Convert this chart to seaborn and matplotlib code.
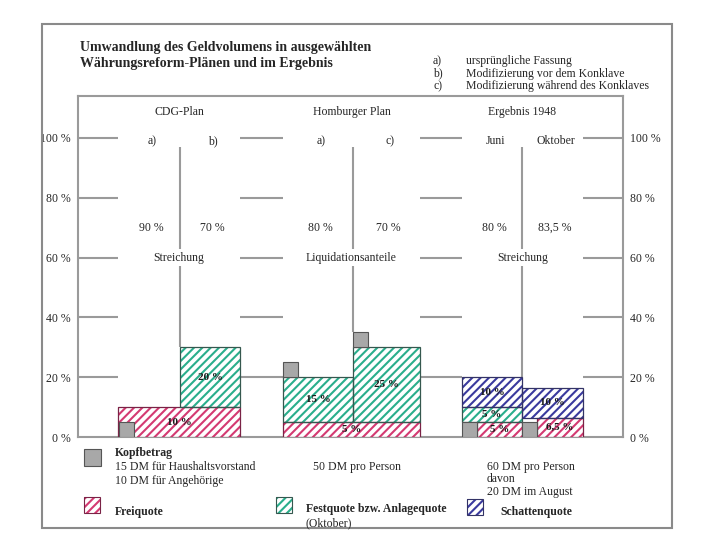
import matplotlib
matplotlib.use("Agg")
import matplotlib.pyplot as plt
from matplotlib.patches import Rectangle
import seaborn as sns

sns.set_theme(style="white")
plt.rcParams['font.family'] = ['Liberation Serif', 'DejaVu Serif']
plt.rcParams['hatch.linewidth'] = 1.5

# --- data ---
title = "Umwandlung des Geldvolumens in ausgewählten\nWährungsreform-Plänen und im Ergebnis"
note_keys = ["a)", "b)", "c)"]
note_texts = ["ursprüngliche Fassung", "Modifizierung vor dem Konklave", "Modifizierung während des Konklaves"]

plans = ["CDG-Plan", "Homburger Plan", "Ergebnis 1948"]
variants = ["a)", "b)", "a)", "c)", "Juni", "Oktober"]
streichung = ["90 %", "70 %", "80 %", "70 %", "80 %", "83,5 %"]
lower_labels = ["Streichung", "Liquidationsanteile", "Streichung"]

freiquote = [10, 10, 5, 5, 5, 6.5]
festquote = [0, 20, 15, 25, 5, 0]
schattenquote = [0, 0, 0, 0, 10, 10]
kopfbetrag = [5, 0, 5, 5, 5, 5]
kopf_texts = ["15 DM für Haushaltsvorstand\n10 DM für Angehörige", "50 DM pro Person",
              "60 DM pro Person\ndavon\n20 DM im August"]
yticks = [0, 20, 40, 60, 80, 100]

# --- layout ---
W, H = 720, 540
edges = [(40, 102, 162), (205, 275, 342), (384, 444, 505)]  # left, divider, right (axis px)
kopf_w = 15
kopf_mode = ["inside", "top", "beside"]
grey = "#9a9a9a"
frei_c, frei_e = "#d43a72", "#7a2346"
fest_c, fest_e = "#2aae8c", "#35584f"
schat_c, schat_e = "#3a3a9e", "#333366"
kopf_c, kopf_e = "#a8a8a8", "#555555"


def fig_xy(x, y):
    return x / W, 1 - y / H


def pct(v):
    return f"{v:g} %".replace(".", ",")


def hbar(ax, x0, w, y0, h, hc, ec):
    ax.bar(x0, h, width=w, bottom=y0, align="edge", color="white",
           edgecolor=hc, hatch="////", linewidth=0, zorder=3)
    ax.bar(x0, h, width=w, bottom=y0, align="edge", fill=False,
           edgecolor=ec, linewidth=0.9, zorder=4)


def label(ax, x, y, s):
    ax.text(x, y, s, ha="center", va="center", fontsize=8, fontweight="bold",
            color="#1a1a1a", zorder=6)


fig = plt.figure(figsize=(7.2, 5.4), dpi=100)
ax = fig.add_axes([78 / W, 1 - 437 / H, 545 / W, (437 - 96) / H])
ax.set_xlim(0, 545)
ax.set_ylim(0, 114)
for s in ax.spines.values():
    s.set_color(grey)
    s.set_linewidth(1.5)
ax.set_yticks(yticks)
ax.set_yticklabels([f"{t} %" for t in yticks], fontsize=8.5)
ax.set_xticks([])
ax.tick_params(axis="y", length=0, pad=5, labelleft=True, labelright=True)

# gridline segments only in the gaps between plans
gaps = [(0, edges[0][0]), (edges[0][2], edges[1][0]), (edges[1][2], edges[2][0]), (edges[2][2], 545)]
for t in yticks[1:]:
    for a, b in gaps:
        ax.hlines(t, a, b, color=grey, linewidth=1.5, zorder=1)

for g in range(3):
    left, mid, right = edges[g]
    cols = [(left, mid - left), (mid, right - mid)]
    idx = [2 * g, 2 * g + 1]
    tops = []
    # Freiquote
    if kopf_mode[g] != "beside" and freiquote[idx[0]] == freiquote[idx[1]]:
        hbar(ax, left, right - left, 0, freiquote[idx[0]], frei_c, frei_e)
        label(ax, (left + right) / 2, freiquote[idx[0]] / 2, pct(freiquote[idx[0]]))
    else:
        for (x0, w), i in zip(cols, idx):
            hbar(ax, x0 + kopf_w, w - kopf_w, 0, freiquote[i], frei_c, frei_e)
            label(ax, x0 + kopf_w + (w - kopf_w) / 2, freiquote[i] / 2, pct(freiquote[i]))
    for (x0, w), i in zip(cols, idx):
        base = freiquote[i]
        if festquote[i] > 0:
            hbar(ax, x0, w, base, festquote[i], fest_c, fest_e)
            label(ax, x0 + w / 2, base + festquote[i] / 2, pct(festquote[i]))
            base += festquote[i]
        if schattenquote[i] > 0:
            hbar(ax, x0, w, base, schattenquote[i], schat_c, schat_e)
            label(ax, x0 + w / 2, base + schattenquote[i] / 2, pct(schattenquote[i]))
            base += schattenquote[i]
        if kopfbetrag[i] > 0:
            if kopf_mode[g] == "top":
                ky, kx = base, x0
                base += kopfbetrag[i]
            elif kopf_mode[g] == "inside":
                ky, kx = 0, x0 + 1
            else:
                ky, kx = 0, x0
            ax.bar(kx, kopfbetrag[i], width=kopf_w, bottom=ky, align="edge",
                   color=kopf_c, edgecolor=kopf_e, linewidth=0.8, zorder=5)
        tops.append(base)
        ax.text(x0 + w / 2 + 3, 99, variants[i], ha="center", va="center", fontsize=8.5)
        ax.text(x0 + w / 2 + 2, 70, streichung[i], ha="center", va="center", fontsize=8.5)
    ax.vlines(mid, max(tops), 97, color=grey, linewidth=1.5, zorder=2)
    ax.text((left + right) / 2, 108.5, plans[g], ha="center", va="center", fontsize=8.5)
    ax.text((left + right) / 2, 60, lower_labels[g], ha="center", va="center", fontsize=8.5,
            bbox=dict(facecolor="white", edgecolor="none", pad=1.5), zorder=3)

# outer frame
fig.add_artist(Rectangle(fig_xy(42, 528), (672 - 42) / W, (528 - 24) / H,
                         transform=fig.transFigure, fill=False, edgecolor="#8a8a8a", linewidth=1.5))

# title and notes
fig.text(*fig_xy(80, 56), title, ha="left", va="center", fontsize=10, fontweight="bold",
         linespacing=1.3)
for k, (key, txt) in enumerate(zip(note_keys, note_texts)):
    fig.text(*fig_xy(433, 61 + 12.5 * k), key, ha="left", va="center", fontsize=8.5)
    fig.text(*fig_xy(466, 61 + 12.5 * k), txt, ha="left", va="center", fontsize=8.5)

# legend
fig.add_artist(Rectangle(fig_xy(84, 466), 17 / W, 17 / H, transform=fig.transFigure,
                         facecolor=kopf_c, edgecolor=kopf_e, linewidth=0.8))
fig.text(*fig_xy(115, 453), "Kopfbetrag", ha="left", va="center", fontsize=8.5, fontweight="bold")
fig.text(*fig_xy(115, 461), kopf_texts[0], ha="left", va="top", fontsize=8.5, linespacing=1.2)
fig.text(*fig_xy(313, 461), kopf_texts[1], ha="left", va="top", fontsize=8.5)
fig.text(*fig_xy(487, 461), kopf_texts[2], ha="left", va="top", fontsize=8.5, linespacing=1.05)

legend_items = [("Freiquote", 84, 513, frei_c, frei_e, 115, 512),
                ("Festquote bzw. Anlagequote", 276, 513, fest_c, fest_e, 306, 509),
                ("Schattenquote", 467, 515, schat_c, schat_e, 500, 512)]
for name, x, y, hc, ec, tx, ty in legend_items:
    fig.add_artist(Rectangle(fig_xy(x, y), 16 / W, 16 / H, transform=fig.transFigure,
                             facecolor="white", edgecolor=hc, hatch="////", linewidth=0))
    fig.add_artist(Rectangle(fig_xy(x, y), 16 / W, 16 / H, transform=fig.transFigure,
                             fill=False, edgecolor=ec, linewidth=0.8))
    fig.text(*fig_xy(tx, ty), name, ha="left", va="center", fontsize=8.5, fontweight="bold")
fig.text(*fig_xy(306, 523), "(Oktober)", ha="left", va="center", fontsize=8.5)

fig.savefig("out.png", dpi=100)
